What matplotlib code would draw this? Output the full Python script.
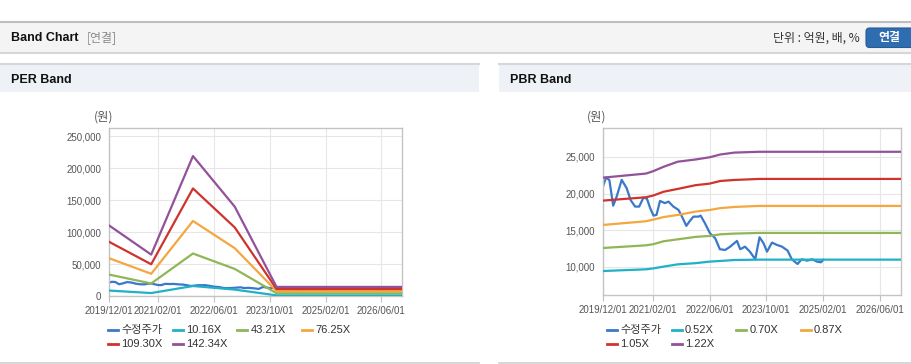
import numpy as np
import pandas as pd
import matplotlib
matplotlib.use('Agg')
import matplotlib.pyplot as plt
from matplotlib.patches import Rectangle, FancyBboxPatch
from matplotlib.lines import Line2D

KR = ['Noto Sans CJK KR', 'DejaVu Sans']
LAT = ['Liberation Sans', 'Noto Sans CJK KR', 'DejaVu Sans']
plt.rcParams['font.family'] = LAT

W, H = 912, 364

# --- data ---
price_dates = ['2019-12-01', '2019-12-24', '2020-01-22', '2020-02-24', '2020-03-25', '2020-05-07',
               '2020-06-19', '2020-07-22', '2020-08-30', '2020-10-04', '2020-11-10', '2020-12-10',
               '2021-01-07', '2021-02-04', '2021-03-02', '2021-04-01', '2021-05-13', '2021-06-13',
               '2021-07-25', '2021-09-07', '2021-10-07', '2021-11-13', '2021-12-10', '2022-01-13',
               '2022-02-25', '2022-03-16', '2022-04-22', '2022-06-04', '2022-07-19', '2022-08-28',
               '2022-10-13', '2022-11-25', '2023-01-22', '2023-02-19', '2023-04-01', '2023-05-13',
               '2023-06-28', '2023-08-04', '2023-09-07', '2023-10-07', '2023-11-19', '2024-01-01',
               '2024-02-13', '2024-04-01', '2024-05-07', '2024-06-25', '2024-08-01', '2024-09-16',
               '2024-10-28', '2024-12-10', '2025-01-13', '2025-02-01']
price = [21090, 22180, 21860, 18360, 19600, 21870,
         20730, 19140, 18230, 18230, 19460, 19300,
         18000, 17000, 17100, 19000, 18700, 18910,
         18230, 17780, 16860, 15600, 16200, 16860,
         16860, 17000, 15960, 14600, 13920, 12420,
         12320, 12770, 13550, 12420, 12770, 12090,
         11050, 14050, 13240, 12090, 13320, 13000,
         12770, 12230, 11050, 10410, 11050, 10860,
         11050, 10730, 10640, 10960]

per_dates = ['2019-12-01', '2020-12-01', '2021-12-01', '2022-12-01', '2023-12-01', '2026-12-01']
per_1016 = [8500, 4600, 15600, 10000, 1000, 1000]
per_4321 = [33400, 19600, 66400, 42300, 4300, 4300]
per_7625 = [58900, 34700, 117200, 74700, 7600, 7600]
per_10930 = [84500, 49600, 168000, 107100, 10900, 10900]
per_14234 = [110000, 64700, 218700, 139500, 14200, 14200]
per_labels = ['수정주가', '10.16X', '43.21X', '76.25X', '109.30X', '142.34X']

pbr_dates = ['2019-12-01', '2020-12-01', '2021-02-01', '2021-05-01', '2021-09-01', '2022-02-01',
             '2022-06-01', '2022-09-01', '2023-01-01', '2023-08-01', '2026-12-01']
pbr_052 = [9450, 9680, 9800, 10050, 10360, 10520, 10730, 10820, 10950, 11000, 11000]
pbr_070 = [12590, 12950, 13100, 13500, 13770, 14100, 14230, 14450, 14550, 14640, 14640]
pbr_087 = [15730, 16230, 16450, 16800, 17090, 17550, 17770, 18020, 18180, 18320, 18320]
pbr_105 = [19050, 19500, 19730, 20250, 20640, 21150, 21360, 21720, 21860, 22000, 22000]
pbr_122 = [22180, 22730, 23050, 23650, 24350, 24650, 24950, 25330, 25590, 25700, 25700]
pbr_labels = ['수정주가', '0.52X', '0.70X', '0.87X', '1.05X', '1.22X']

x_ticks = ['2019-12-01', '2021-02-01', '2022-06-01', '2023-10-01', '2025-02-01', '2026-06-01']
x_ticklabels = ['2019/12/01', '2021/02/01', '2022/06/01', '2023/10/01', '2025/02/01', '2026/06/01']

colors = ['#3a78c9', '#22b0c6', '#8fb657', '#f3a73e', '#cf332d', '#935199']


def fx(px):
    return px / W


def fy(py):
    return 1 - py / H


fig = plt.figure(figsize=(W / 100, H / 100), dpi=100)
fig.patch.set_facecolor('white')


def rect(x0, y0, x1, y1, color):
    fig.add_artist(Rectangle((fx(x0), fy(y1)), fx(x1) - fx(x0), fy(y0) - fy(y1),
                             transform=fig.transFigure, facecolor=color, edgecolor='none', zorder=-5))


def hline(x0, x1, y, color, lw=1.0):
    fig.add_artist(Line2D([fx(x0), fx(x1)], [fy(y), fy(y)], transform=fig.transFigure,
                          color=color, lw=lw, zorder=-4))


# page header
rect(0, 22, W, 52, '#f4f4f4')
hline(0, W, 21.5, '#bdbdbd', 1.5)
hline(0, W, 52.5, '#d6d6d6', 1.5)
fig.text(fx(11), fy(38), 'Band Chart', fontsize=9, fontweight='bold', color='#111111', va='center')
fig.text(fx(87), fy(38), '[연결]', fontsize=8.6, color='#8a8a8a', va='center', family=KR)
fig.text(fx(860), fy(38.5), '단위 : 억원, 배, %', fontsize=8.6, color='#333333', va='center', ha='right', family=KR)
fig.add_artist(FancyBboxPatch((fx(866), fy(47.5)), fx(50), fy(28) - fy(47.5),
                              boxstyle='round,pad=0,rounding_size=0.004', mutation_aspect=W / H,
                              transform=fig.transFigure, facecolor='#2f6db1', edgecolor='#255c98', lw=0.8))
fig.text(fx(889), fy(38), '연결', fontsize=8.6, fontweight='bold', color='white', va='center', ha='center', family=KR)

# panel headers
for x0, x1, title in [(0, 479, 'PER Band'), (499, W, 'PBR Band')]:
    rect(x0, 64, x1, 92, '#eef2f6')
    hline(x0, x1, 63.5, '#d3d8de', 1.5)
    hline(x0, x1, 362.5, '#cfcfcf', 1.2)
    fig.text(fx(x0 + 11), fy(80), title, fontsize=9, fontweight='bold', color='#111111', va='center')


def make_axes(box, band_dates, bands, ylim, yticks, ylabel_x, labels, legend_x):
    ax = fig.add_axes(box)
    dts = pd.to_datetime(price_dates)
    ax.plot(dts, price, color=colors[0], lw=1.6, zorder=2)
    bd = pd.to_datetime(band_dates)
    for i, vals in enumerate(bands):
        ax.plot(bd, vals, color=colors[i + 1], lw=1.6, zorder=3 + i)
    ax.set_xlim(pd.Timestamp('2019-12-01'), pd.Timestamp('2026-12-01'))
    ax.set_ylim(*ylim)
    ax.set_yticks(yticks)
    ax.set_yticklabels([f'{v:,}' for v in yticks])
    ax.set_xticks(pd.to_datetime(x_ticks))
    ax.set_xticklabels(x_ticklabels)
    ax.tick_params(axis='x', length=4, color='#c0c0c0', labelsize=7, labelcolor='#555555', pad=3)
    ax.tick_params(axis='y', length=0, labelsize=7, labelcolor='#555555', pad=6)
    ax.grid(True, color='#e6e6e6', lw=0.8)
    ax.set_axisbelow(True)
    for s in ax.spines.values():
        s.set_color('#c4c4c4')
        s.set_linewidth(1.0)
    fig.text(fx(ylabel_x), fy(117), '(원)', fontsize=8.8, color='#555555', va='center', ha='center', family=KR)

    # legend, Highcharts-style fixed columns
    for i, lab in enumerate(labels):
        col, row = i % 4, i // 4
        tx = legend_x + col * 64.7
        ty = 330 + row * 14
        fig.add_artist(Line2D([fx(tx - 14), fx(tx - 4)], [fy(ty), fy(ty)], transform=fig.transFigure,
                              color=colors[i], lw=2))
        fig.text(fx(tx - 1), fy(ty), lab, fontsize=8, color='#333333', va='center',
                 family=KR if i == 0 else LAT)
    return ax


make_axes([fx(109.3), fy(296), fx(402) - fx(109.3), fy(128) - fy(296)], per_dates,
          [per_1016, per_4321, per_7625, per_10930, per_14234],
          (0, 262500), [0, 50000, 100000, 150000, 200000, 250000], 104, per_labels, 122)

make_axes([fx(603.3), fy(295), fx(901) - fx(603.3), fy(128.3) - fy(295)], pbr_dates,
          [pbr_052, pbr_070, pbr_087, pbr_105, pbr_122],
          (6180, 28900), [10000, 15000, 20000, 25000], 597, pbr_labels, 621)

fig.savefig('out.png', dpi=100)
